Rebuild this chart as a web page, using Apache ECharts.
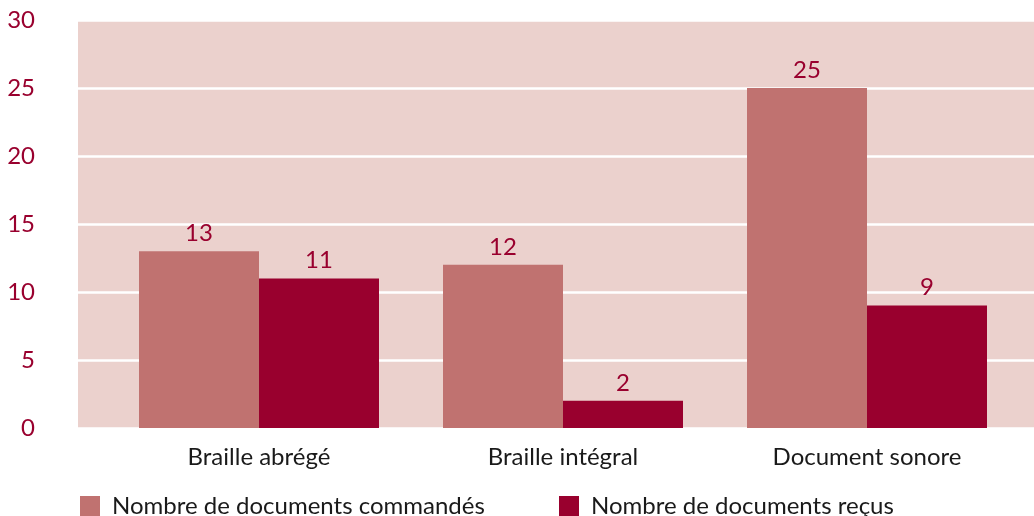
<!DOCTYPE html>
<html><head><meta charset="utf-8">
<script src="https://cdn.jsdelivr.net/npm/echarts@6/dist/echarts.min.js"></script>
<style>html,body{margin:0;padding:0;background:#fff}#c{width:1034px;height:516px}</style>
</head><body><div id="c"></div>
<script>
const categories = ['Braille abrégé', 'Braille intégral', 'Document sonore'];
const seriesNames = ['Nombre de documents commandés', 'Nombre de documents reçus'];
const commandes = [13, 12, 25];
const recus = [11, 2, 9];
const yTicks = [0, 5, 10, 15, 20, 25, 30];

const font = 'Lato';
const red = '#99002E';
const ink = '#1a1a1a';
const legendText = {fontFamily: font, fontSize: 24, color: ink, padding: [0, 0, 0, 7]};
const chart = echarts.init(document.getElementById('c'), null, {renderer: 'canvas'});
chart.setOption({
  animation: false,
  textStyle: {fontFamily: font},
  grid: [
    {left: 78, right: 0, top: 20, bottom: 88, show: true, backgroundColor: '#EBD1CD', borderWidth: 0},
    {left: 107, right: 15, top: 20, bottom: 88}
  ],
  legend: [
    {left: 75, top: 489, itemWidth: 20, itemHeight: 20, icon: 'rect', textStyle: legendText, data: [seriesNames[0]]},
    {left: 554, top: 489, itemWidth: 20, itemHeight: 20, icon: 'rect', textStyle: legendText, data: [seriesNames[1]]}
  ],
  xAxis: [
    {gridIndex: 0, type: 'value', min: 0, max: 1, show: false},
    {gridIndex: 1, type: 'category', data: categories,
     axisLine: {show: false}, axisTick: {show: false},
     axisLabel: {fontFamily: font, fontSize: 24, color: ink, margin: 17}}
  ],
  yAxis: [
    {gridIndex: 0, type: 'value', min: yTicks[0], max: yTicks[yTicks.length - 1], interval: 5,
     axisLine: {show: false}, axisTick: {show: false},
     axisLabel: {fontFamily: font, fontSize: 24, color: red, margin: 43, padding: [9, 0, 0, 0]},
     splitLine: {lineStyle: {color: '#ffffff', width: 2.5}}},
    {gridIndex: 1, type: 'value', min: 0, max: 30, show: false, splitLine: {show: false}}
  ],
  series: [
    {name: seriesNames[0], type: 'bar', xAxisIndex: 1, yAxisIndex: 1, data: commandes,
     barWidth: 120, barGap: '0%', itemStyle: {color: '#C07270'},
     label: {show: true, position: 'top', distance: 6, fontFamily: font, fontSize: 24, color: red}},
    {name: seriesNames[1], type: 'bar', xAxisIndex: 1, yAxisIndex: 1, data: recus,
     barWidth: 120, barGap: '0%', itemStyle: {color: red},
     label: {show: true, position: 'top', distance: 6, fontFamily: font, fontSize: 24, color: red}}
  ]
});
</script></body></html>
